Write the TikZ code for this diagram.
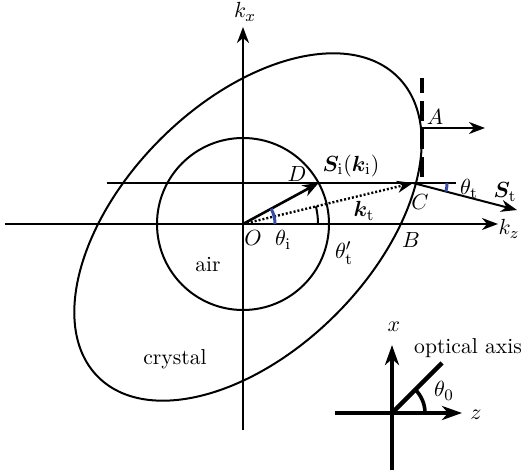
\documentclass[tikz,border=0pt]{standalone}
\usepackage{bm}
\usetikzlibrary{arrows.meta}
\definecolor{arcblue}{RGB}{55,75,165}

\begin{document}
\begin{tikzpicture}[x=0.5pt, y=0.5pt,
  line/.style={line width=1pt},
  arrow/.style={line width=1pt, -{Stealth[length=8pt, width=6pt, inset=2.5pt]}},
  heavy/.style={line width=2pt, -{Stealth[length=10pt, width=7pt, inset=3pt]}},
  lbl/.style={inner sep=1pt, font=\fontsize{10.8}{13}\selectfont},
  bluearc/.style={draw=arcblue, line width=1.5pt}
]
\useasboundingbox (-243,-251) rectangle (280,224);

% points
\coordinate (O) at (0,0);
\coordinate (D) at (75.6,41);
\coordinate (C) at (170,41);
\coordinate (E) at (5,-3);
\coordinate (kxbot) at (0,-206);
\coordinate (kxtop) at (0,197);
\coordinate (kzleft) at (-238,0);
\coordinate (kzright) at (255,0);
\coordinate (hleft) at (-136,41);
\coordinate (hright) at (213,41);
\coordinate (tanbot) at (179,47);
\coordinate (tantop) at (179,146);
\coordinate (A) at (179,96);
\coordinate (Aend) at (242,96);
\coordinate (St) at (274,14);

% axes, circle, index ellipse
\draw[arrow] (kxbot) -- (kxtop);
\draw[arrow] (kzleft) -- (kzright);
\draw[line] (O) circle (86);
\draw[line, rotate around={45:(E)}] (E) ellipse [x radius=212, y radius=124];
\draw[line] (hleft) -- (hright);
\draw[line width=1.7pt, dash pattern=on 10pt off 4pt] (tanbot) -- (tantop);

% wave vectors and energy flow
\draw[arrow, line width=1.3pt] (O) -- (D);
\draw[arrow, dash pattern=on 1pt off 1pt, line width=1.2pt] (O) -- (C);
\draw[arrow] (A) -- (Aend);
\draw[arrow] (C) -- (St);

% angles
\draw[bluearc] ([shift={(0:32)}]O) arc[start angle=0, end angle=28.5, radius=32];
\draw[line] ([shift={(0:75)}]O) arc[start angle=0, end angle=13.6, radius=75];
\draw[bluearc] ([shift={(-14.6:34)}]C) arc[start angle=-14.6, end angle=0, radius=34];

% labels
\node[lbl] (lkx) at (2,212) {$k_x$};
\node[lbl] (lkz) at (266,-5) {$k_z$};
\node[lbl] (lD) at (54,50) {$D$};
\node[lbl] (lSi) at (108,58) {$\bm{S}_{\mathrm{i}}(\bm{k}_{\mathrm{i}})$};
\node[lbl] (lkt) at (121,13) {$\bm{k}_{\mathrm{t}}$};
\node[lbl] (lC) at (177,22) {$C$};
\node[lbl] (lB) at (168,-16) {$B$};
\node[lbl] (lA) at (192,107) {$A$};
\node[lbl] (lO) at (10,-14) {$O$};
\node[lbl] (lthi) at (40,-16) {$\theta_{\mathrm{i}}$};
\node[lbl] (ltht2) at (101,-29) {$\theta'_{\mathrm{t}}$};
\node[lbl] (ltht) at (226,35) {$\theta_{\mathrm{t}}$};
\node[lbl] (lSt) at (262,32) {$\bm{S}_{\mathrm{t}}$};
\node[lbl] (lair) at (-35,-41) {air};
\node[lbl] (lcrystal) at (-68,-135) {crystal};

% optical axis inset
\coordinate (P) at (149,-189);
\coordinate (Pbot) at (149,-246);
\coordinate (Ptop) at (149,-121);
\coordinate (Pleft) at (92,-189);
\coordinate (Pright) at (219,-189);
\coordinate (Popt) at (199,-139);
\draw[heavy] (Pbot) -- (Ptop);
\draw[heavy] (Pleft) -- (Pright);
\draw[line width=2.2pt] (P) -- (Popt);
\draw[line width=1.8pt] ([shift={(0:33)}]P) arc[start angle=0, end angle=45, radius=33];
\node[lbl] (lx) at (151,-103) {$x$};
\node[lbl] (lz) at (233,-191) {$z$};
\node[lbl] (lth0) at (201,-167) {$\theta_0$};
\node[lbl] (lopt) at (225,-124) {optical axis};
\end{tikzpicture}
\end{document}
